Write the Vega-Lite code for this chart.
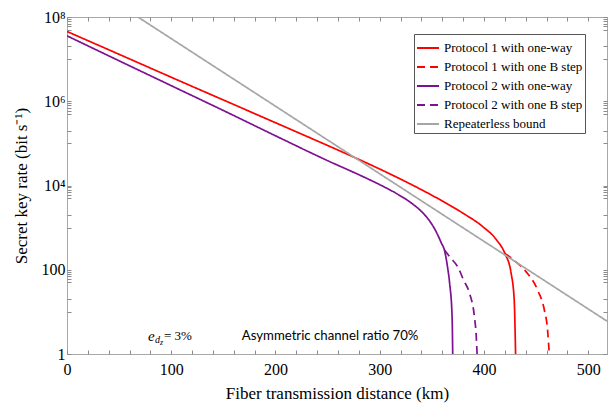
{
  "$schema": "https://vega.github.io/schema/vega-lite/v6.json",
  "width": 540,
  "height": 337,
  "autosize": {"type": "none"},
  "padding": {"left": 67, "top": 17, "right": 1, "bottom": 51},
  "config": {
    "view": {"stroke": "#a8a8a8", "strokeWidth": 1},
    "font": "Liberation Serif",
    "axis": {"grid": false, "domain": false, "tickColor": "#8c8c8c", "labelColor": "black", "titleColor": "black", "labelFont": "Liberation Serif", "titleFont": "Liberation Serif", "titleFontWeight": "normal", "labelOverlap": false, "labelFlush": false, "labelBound": false}
  },
  "datasets": {
    "curves": [
      {"series": "Protocol 1 with one-way", "km": 0, "rate": 45290000},
      {"series": "Protocol 1 with one-way", "km": 50, "rate": 13000000},
      {"series": "Protocol 1 with one-way", "km": 100, "rate": 3715000},
      {"series": "Protocol 1 with one-way", "km": 150, "rate": 1072000},
      {"series": "Protocol 1 with one-way", "km": 200, "rate": 309000},
      {"series": "Protocol 1 with one-way", "km": 250, "rate": 89130},
      {"series": "Protocol 1 with one-way", "km": 279, "rate": 42660},
      {"series": "Protocol 1 with one-way", "km": 300, "rate": 24550},
      {"series": "Protocol 1 with one-way", "km": 316, "rate": 15850},
      {"series": "Protocol 1 with one-way", "km": 340, "rate": 7943},
      {"series": "Protocol 1 with one-way", "km": 358, "rate": 4571},
      {"series": "Protocol 1 with one-way", "km": 380, "rate": 2188},
      {"series": "Protocol 1 with one-way", "km": 399, "rate": 1047},
      {"series": "Protocol 1 with one-way", "km": 412, "rate": 512.9},
      {"series": "Protocol 1 with one-way", "km": 420, "rate": 245.5},
      {"series": "Protocol 1 with one-way", "km": 426, "rate": 83.2},
      {"series": "Protocol 1 with one-way", "km": 429, "rate": 19.05},
      {"series": "Protocol 1 with one-way", "km": 429.8, "rate": 3.98},
      {"series": "Protocol 1 with one-way", "km": 430.3, "rate": 1},
      {"series": "Protocol 1 with one B step", "km": 420, "rate": 245.5},
      {"series": "Protocol 1 with one B step", "km": 430, "rate": 158.5},
      {"series": "Protocol 1 with one B step", "km": 440.3, "rate": 90.2},
      {"series": "Protocol 1 with one B step", "km": 451.4, "rate": 33.1},
      {"series": "Protocol 1 with one B step", "km": 457.9, "rate": 11.1},
      {"series": "Protocol 1 with one B step", "km": 461, "rate": 3.72},
      {"series": "Protocol 1 with one B step", "km": 462.6, "rate": 1},
      {"series": "Protocol 2 with one-way", "km": 0, "rate": 35730000},
      {"series": "Protocol 2 with one-way", "km": 50, "rate": 9120000},
      {"series": "Protocol 2 with one-way", "km": 100, "rate": 2344000},
      {"series": "Protocol 2 with one-way", "km": 150, "rate": 602600},
      {"series": "Protocol 2 with one-way", "km": 200, "rate": 151400},
      {"series": "Protocol 2 with one-way", "km": 250, "rate": 38900},
      {"series": "Protocol 2 with one-way", "km": 284, "rate": 16220},
      {"series": "Protocol 2 with one-way", "km": 300, "rate": 10470},
      {"series": "Protocol 2 with one-way", "km": 316, "rate": 6457},
      {"series": "Protocol 2 with one-way", "km": 330, "rate": 3890},
      {"series": "Protocol 2 with one-way", "km": 338, "rate": 2692},
      {"series": "Protocol 2 with one-way", "km": 345, "rate": 1778},
      {"series": "Protocol 2 with one-way", "km": 350, "rate": 1202},
      {"series": "Protocol 2 with one-way", "km": 355, "rate": 724},
      {"series": "Protocol 2 with one-way", "km": 359, "rate": 436.5},
      {"series": "Protocol 2 with one-way", "km": 362, "rate": 295.1},
      {"series": "Protocol 2 with one-way", "km": 365, "rate": 117.5},
      {"series": "Protocol 2 with one-way", "km": 367, "rate": 49},
      {"series": "Protocol 2 with one-way", "km": 369.4, "rate": 7.76},
      {"series": "Protocol 2 with one-way", "km": 370, "rate": 1},
      {"series": "Protocol 2 with one B step", "km": 362, "rate": 295.1},
      {"series": "Protocol 2 with one B step", "km": 368, "rate": 190.5},
      {"series": "Protocol 2 with one B step", "km": 374.8, "rate": 117.5},
      {"series": "Protocol 2 with one B step", "km": 380.5, "rate": 56.2},
      {"series": "Protocol 2 with one B step", "km": 386, "rate": 28.2},
      {"series": "Protocol 2 with one B step", "km": 390.8, "rate": 7.76},
      {"series": "Protocol 2 with one B step", "km": 392.5, "rate": 2.82},
      {"series": "Protocol 2 with one B step", "km": 393.4, "rate": 1},
      {"series": "Repeaterless bound", "km": 68, "rate": 100000000},
      {"series": "Repeaterless bound", "km": 518, "rate": 6.03}
    ],
    "notes": [
      {"km": 167.6, "rate": 2.7, "label": "Asymmetric channel ratio 70%"}
    ],
    "edz": [
      {"km": 77.6, "rate": 2.7}
    ]
  },
  "layer": [
    {
      "data": {"name": "curves"},
      "mark": {"type": "line", "clip": true, "strokeWidth": 1.7, "interpolate": "monotone"},
      "encoding": {
        "x": {
          "field": "km", "type": "quantitative",
          "scale": {"domain": [0, 518], "nice": false, "zero": false},
          "axis": {
            "orient": "bottom",
            "values": [0, 20, 40, 60, 80, 100, 120, 140, 160, 180, 200, 220, 240, 260, 280, 300, 320, 340, 360, 380, 400, 420, 440, 460, 480, 500],
            "format": "d",
            "labelExpr": "datum.value % 100 === 0 ? datum.label : ''",
            "tickSize": -4,
            "labelPadding": 11,
            "labelFontSize": 16,
            "title": "Fiber transmission distance (km)",
            "titleFontSize": 17,
            "titlePadding": 8
          }
        },
        "y": {
          "field": "rate", "type": "quantitative",
          "scale": {"type": "log", "domain": [1, 100000000], "nice": false},
          "axis": {
            "orient": "left",
            "values": [1, 10, 20, 50, 60, 70, 80, 90, 100, 1000, 2000, 5000, 6000, 7000, 8000, 9000, 10000, 100000, 200000, 500000, 600000, 700000, 800000, 900000, 1000000, 10000000, 20000000, 50000000, 60000000, 70000000, 80000000, 90000000, 100000000],
            "labelExpr": "datum.value == 1 ? '1' : datum.value == 100 ? '100' : datum.value == 10000 ? '10⁴' : datum.value == 1000000 ? '10⁶' : datum.value == 100000000 ? '10⁸' : ''",
            "tickSize": -4,
            "labelPadding": 6,
            "labelFontSize": 16,
            "title": "Secret key rate (bit s⁻¹)",
            "titleFontSize": 17,
            "titlePadding": 11
          }
        },
        "color": {
          "field": "series", "type": "nominal",
          "scale": {
            "domain": ["Protocol 1 with one-way", "Protocol 1 with one B step", "Protocol 2 with one-way", "Protocol 2 with one B step", "Repeaterless bound"],
            "range": ["#ff0000", "#ff0000", "#7e1191", "#7e1191", "#a6a6a6"]
          },
          "legend": {"title": null, "orient": "none", "legendX": 347, "legendY": 17, "symbolType": "stroke", "symbolSize": 484, "symbolStrokeWidth": 2, "labelFont": "Liberation Serif", "labelFontSize": 13, "labelColor": "black", "padding": 2, "strokeColor": "#555555", "fillColor": "white", "rowPadding": -3, "labelOffset": 4, "labelLimit": 300}
        },
        "strokeDash": {
          "field": "series", "type": "nominal",
          "scale": {
            "domain": ["Protocol 1 with one-way", "Protocol 1 with one B step", "Protocol 2 with one-way", "Protocol 2 with one B step", "Repeaterless bound"],
            "range": [[1, 0], [8, 5], [1, 0], [8, 5], [1, 0]]
          },
          "legend": {"title": null, "orient": "none", "legendX": 347, "legendY": 17, "symbolType": "stroke", "symbolSize": 484, "symbolStrokeWidth": 2, "labelFont": "Liberation Serif", "labelFontSize": 13, "labelColor": "black", "padding": 2, "strokeColor": "#555555", "fillColor": "white", "rowPadding": -3, "labelOffset": 4, "labelLimit": 300}
        }
      }
    },
    {
      "data": {"name": "curves"},
      "mark": {"type": "point", "opacity": 0},
      "encoding": {
        "x": {
          "field": "km", "type": "quantitative",
          "axis": {
            "orient": "top",
            "values": [0, 20, 40, 60, 80, 100, 120, 140, 160, 180, 200, 220, 240, 260, 280, 300, 320, 340, 360, 380, 400, 420, 440, 460, 480, 500],
            "labels": false, "tickSize": -4, "title": null
          }
        },
        "y": {
          "field": "rate", "type": "quantitative",
          "axis": {
            "orient": "right",
            "values": [1, 10, 20, 50, 60, 70, 80, 90, 100, 1000, 2000, 5000, 6000, 7000, 8000, 9000, 10000, 100000, 200000, 500000, 600000, 700000, 800000, 900000, 1000000, 10000000, 20000000, 50000000, 60000000, 70000000, 80000000, 90000000, 100000000],
            "labels": false, "tickSize": -4, "title": null
          }
        }
      }
    },
    {
      "data": {"name": "notes"},
      "mark": {"type": "text", "font": "Lato", "fontSize": 13.2, "align": "left", "baseline": "middle", "color": "black"},
      "encoding": {
        "x": {"field": "km", "type": "quantitative", "axis": null},
        "y": {"field": "rate", "type": "quantitative", "axis": null},
        "text": {"field": "label"}
      }
    },
    {
      "data": {"name": "edz"},
      "mark": {"type": "text", "font": "Liberation Serif", "fontStyle": "italic", "fontSize": 15, "align": "left", "baseline": "middle", "color": "black", "text": "e"},
      "encoding": {
        "x": {"field": "km", "type": "quantitative", "axis": null},
        "y": {"field": "rate", "type": "quantitative", "axis": null}
      }
    },
    {
      "data": {"name": "edz"},
      "mark": {"type": "text", "font": "Liberation Serif", "fontStyle": "italic", "fontSize": 10, "align": "left", "baseline": "middle", "color": "black", "text": "d", "dx": 7, "dy": 4},
      "encoding": {
        "x": {"field": "km", "type": "quantitative", "axis": null},
        "y": {"field": "rate", "type": "quantitative", "axis": null}
      }
    },
    {
      "data": {"name": "edz"},
      "mark": {"type": "text", "font": "Liberation Serif", "fontStyle": "italic", "fontSize": 8, "align": "left", "baseline": "middle", "color": "black", "text": "z", "dx": 12, "dy": 7},
      "encoding": {
        "x": {"field": "km", "type": "quantitative", "axis": null},
        "y": {"field": "rate", "type": "quantitative", "axis": null}
      }
    },
    {
      "data": {"name": "edz"},
      "mark": {"type": "text", "font": "Liberation Serif", "fontSize": 13, "align": "left", "baseline": "middle", "color": "black", "text": "=   3%", "dx": 16, "dy": 0},
      "encoding": {
        "x": {"field": "km", "type": "quantitative", "axis": null},
        "y": {"field": "rate", "type": "quantitative", "axis": null}
      }
    }
  ],
  "resolve": {"axis": {"x": "independent", "y": "independent"}}
}
